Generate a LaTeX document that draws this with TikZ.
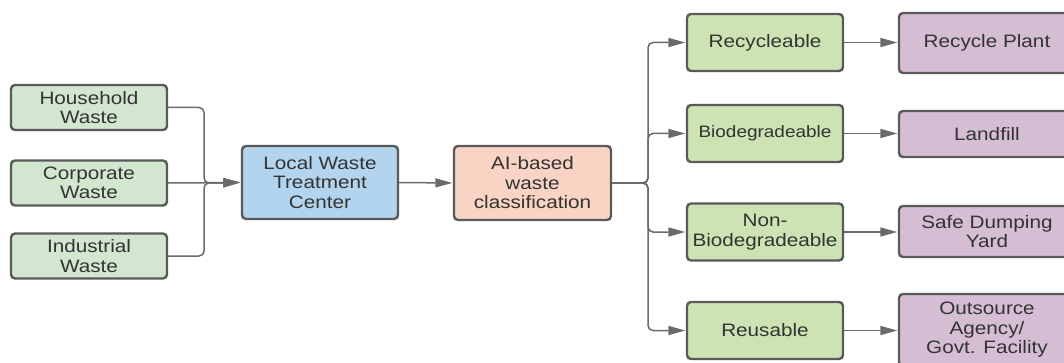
\documentclass[tikz,border=0pt]{standalone}
\usepackage{fontspec}
\setmainfont{Liberation Sans}[FakeStretch=1.15]
\usetikzlibrary{arrows.meta}
\definecolor{lgreen}{HTML}{D2E6D0}
\definecolor{rgreen}{HTML}{CDE3B3}
\definecolor{lblue}{HTML}{B3D4EE}
\definecolor{salmon}{HTML}{F9D3C3}
\definecolor{lpurple}{HTML}{D5BDD4}
\definecolor{bordergray}{HTML}{5A5A5A}
\definecolor{linegray}{HTML}{6A6A6A}
\definecolor{txt}{HTML}{333333}
\tikzset{
  box/.style={draw=bordergray, line width=2.4pt, rounded corners=4pt, inner sep=0pt,
    align=center, text=txt, font=\fontsize{18}{19.5}\selectfont},
  srcbox/.style={box, fill=lgreen, minimum width=156pt, minimum height=45pt},
  catbox/.style={box, fill=rgreen, minimum width=156pt, minimum height=57pt},
  dstbox/.style={box, fill=lpurple, minimum width=176pt},
  conn/.style={draw=linegray, line width=1.5pt, rounded corners=5pt},
  arr/.style={conn, -{Triangle[length=17pt,width=9pt]}, shorten >=0.5pt}
}
\begin{document}
\begin{tikzpicture}[x=1pt,y=-1pt]
\useasboundingbox (0,0) rectangle (1064,363);
\clip (0,0) rectangle (1064,363);
% sources
\node[srcbox] (hh) at (89,107.5) {Household\\Waste};
\node[srcbox] (corp) at (89,183) {Corporate\\Waste};
\node[srcbox] (ind) at (89,256) {Industrial\\Waste};
% center
\node[box, fill=lblue, minimum width=156pt, minimum height=73pt] (local) at (320,182.5) {Local Waste\\Treatment\\Center};
\node[box, fill=salmon, minimum width=157pt, minimum height=74pt] (ai) at (532.5,183) {AI-based\\waste\\classification};
% categories
\node[catbox] (rec) at (765,42.5) {Recycleable};
\node[catbox, font=\fontsize{16.5}{18}\selectfont] (bio) at (765,133.5) {Biodegradeable};
\node[catbox] (non) at (765,232) {Non-\\Biodegradeable};
\node[catbox] (reu) at (765,330.5) {Reusable};
% destinations
\node[dstbox, minimum height=60pt] (rp) at (987,43) {Recycle Plant};
\node[dstbox, minimum height=46pt] (lf) at (987,134) {Landfill};
\node[dstbox, minimum height=51pt] (sd) at (987,231.5) {Safe Dumping\\Yard};
\node[dstbox, minimum height=72pt] (oa) at (987,330) {Outsource\\Agency/\\Govt. Facility};
% junctions
\coordinate (jL) at (204,183);
\coordinate (jR) at (648,183);
% connectors left
\draw[arr] (hh.east) -| (jL) -- (local.west);
\draw[arr] (ind.east) -| (jL) -- (local.west);
\draw[arr] (corp.east) -- (local.west);
\draw[arr] (local.east) -- (ai.west);
% connectors right
\draw[arr] (ai.east) -- (jR) |- (rec.west);
\draw[arr] (ai.east) -- (jR) |- (bio.west);
\draw[arr] (ai.east) -- (jR) |- (non.west);
\draw[arr] (ai.east) -- (jR) |- (reu.west);
\draw[arr] (rec.east) -- (rec.east -| rp.west);
\draw[arr] (bio.east) -- (bio.east -| lf.west);
\draw[arr] (non.east) -- (non.east -| sd.west);
\draw[arr] (reu.east) -- (reu.east -| oa.west);
\end{tikzpicture}
\end{document}
